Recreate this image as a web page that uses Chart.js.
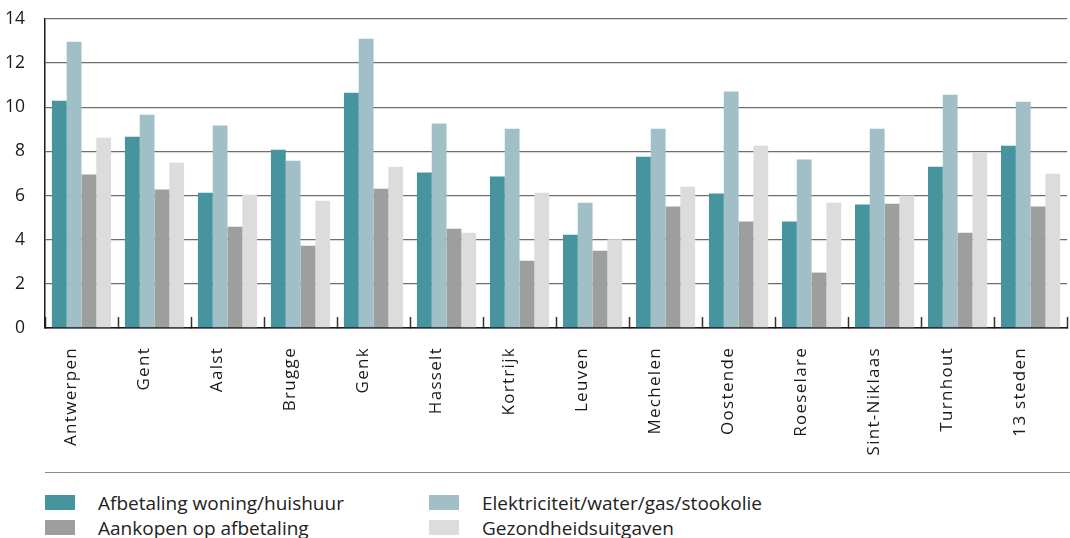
<!DOCTYPE html>
<html>
<head>
<meta charset="utf-8">
<title>Uitgaven per stad</title>
<script src="https://cdn.jsdelivr.net/npm/chart.js@4.4.1/dist/chart.umd.min.js"></script>
<style>
  html, body { margin: 0; padding: 0; background: #fff; overflow: hidden; }
  #wrap { position: relative; width: 1070px; height: 538px; overflow: hidden; }
  #chart { position: absolute; left: 0; top: 0; }
  #rule { position: absolute; left: 45px; top: 472px; width: 1025px; height: 0; border-top: 1.5px solid #8a8a8a; }
  #legend {
    position: absolute; left: 45px; top: 490px;
    display: grid; grid-template-columns: 384px auto;
    font-family: "Open Sans", sans-serif; font-size: 19px; color: #222;
  }
  .item { display: flex; align-items: center; height: 25px; white-space: nowrap; }
  .swatch { width: 30px; height: 15px; margin-right: 23px; flex: none; }
</style>
</head>
<body>
<div id="wrap">
  <canvas id="chart" width="1081" height="470"></canvas>
  <div id="rule"></div>
  <div id="legend"></div>
</div>
<script>
// Cities (and the 13-city total) along the x axis
const categories = ['Antwerpen', 'Gent', 'Aalst', 'Brugge', 'Genk', 'Hasselt', 'Kortrijk',
  'Leuven', 'Mechelen', 'Oostende', 'Roeselare', 'Sint-Niklaas', 'Turnhout', '13 steden'];

// One value per city, per expense type
const afbetalingWoning = [10.3, 8.67, 6.13, 8.08, 10.66, 7.04, 6.86, 4.23, 7.76, 6.09, 4.82, 5.59, 7.31, 8.26];
const elektriciteit    = [12.97, 9.66, 9.17, 7.58, 13.11, 9.26, 9.03, 5.68, 9.03, 10.71, 7.63, 9.03, 10.57, 10.25];
const aankopen         = [6.95, 6.27, 4.59, 3.73, 6.31, 4.5, 3.05, 3.5, 5.5, 4.82, 2.51, 5.63, 4.32, 5.5];
const gezondheid       = [8.62, 7.49, 6.04, 5.77, 7.31, 4.32, 6.13, 4.02, 6.4, 8.26, 5.68, 6.0, 7.94, 6.99];

const seriesLabels = ['Afbetaling woning/huishuur', 'Elektriciteit/water/gas/stookolie',
  'Aankopen op afbetaling', 'Gezondheidsuitgaven'];
const seriesColors = ['#46949d', '#a1bfc6', '#9d9f9e', '#dcdcdc'];

// y axis: 0 to 14 in steps of 2
const yMin = 0, yMax = 14, yStep = 2;

const FONT = '"Open Sans", sans-serif';

// Draws the x tick labels with a little extra tracking
const xLabelSpacing = {
  id: 'xLabelSpacing',
  beforeDraw(chart) {
    const sc = chart.scales.x;
    if (sc && !sc._tracked) {
      const orig = sc.drawLabels.bind(sc);
      sc.drawLabels = function (area) {
        const ctx = this.ctx;
        ctx.save();
        ctx.letterSpacing = '1.3px';
        orig(area);
        ctx.restore();
      };
      sc._tracked = true;
    }
  }
};

const values = [afbetalingWoning, elektriciteit, aankopen, gezondheid];

const chart = new Chart(document.getElementById('chart'), {
  type: 'bar',
  data: {
    labels: categories,
    datasets: values.map((v, i) => ({
      label: seriesLabels[i],
      data: v,
      backgroundColor: seriesColors[i],
      borderWidth: 0,
      categoryPercentage: 60 / 74,
      barPercentage: 1
    }))
  },
  plugins: [xLabelSpacing],
  options: {
    responsive: false,
    animation: false,
    devicePixelRatio: 1,
    layout: { padding: { top: 19, right: 0, bottom: 0, left: 0 } },
    plugins: {
      legend: { display: false },
      tooltip: { enabled: false }
    },
    scales: {
      x: {
        type: 'category',
        offset: true,
        grid: {
          display: true,
          offset: true,
          drawOnChartArea: false,
          drawTicks: true,
          tickLength: -11,
          tickColor: '#333',
          tickWidth: 1.5
        },
        border: { display: true, color: '#1a1a1a', width: 1.5 },
        ticks: {
          autoSkip: false,
          minRotation: 90,
          maxRotation: 90,
          padding: 30,
          labelOffset: -10,
          color: '#1a1a1a',
          font: { family: FONT, size: 17 }
        },
        afterFit(s) { s.height = 470 - 328; }
      },
      y: {
        min: yMin,
        max: yMax,
        grid: {
          drawTicks: false,
          color: (c) => (c.tick && c.tick.value === 0 ? '#1a1a1a' : '#6e6e6e'),
          lineWidth: 1.3
        },
        border: { display: true, color: '#1a1a1a', width: 1.5 },
        ticks: {
          stepSize: yStep,
          padding: 20,
          color: '#1a1a1a',
          font: { family: FONT, size: 17.5 }
        },
        afterFit(s) {
          s.width = 45;
          s.paddingTop = 0;
          s.paddingBottom = 0;
        }
      }
    }
  }
});

// Legend in two columns, built from the chart's datasets
const legend = document.getElementById('legend');
chart.data.datasets.forEach((ds) => {
  const item = document.createElement('div');
  item.className = 'item';
  const sw = document.createElement('span');
  sw.className = 'swatch';
  sw.style.background = ds.backgroundColor;
  const tx = document.createElement('span');
  tx.textContent = ds.label;
  item.appendChild(sw);
  item.appendChild(tx);
  legend.appendChild(item);
});
</script>
</body>
</html>
